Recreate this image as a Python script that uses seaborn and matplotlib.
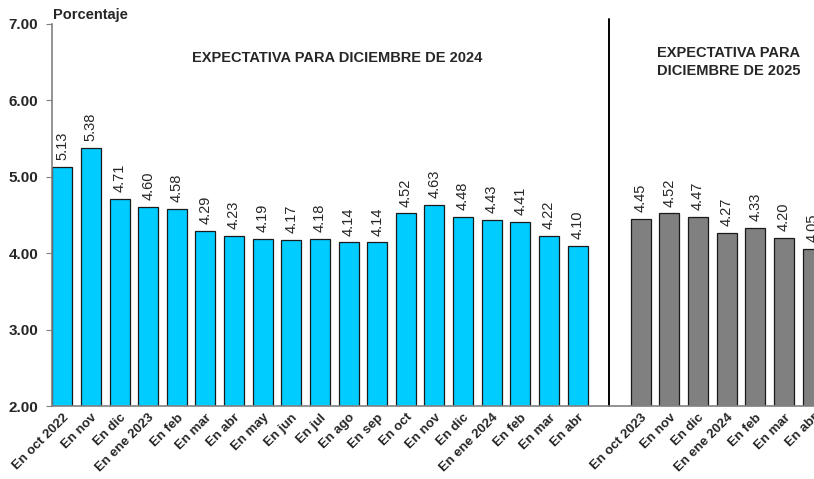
import numpy as np
import pandas as pd
import matplotlib
matplotlib.use("Agg")
import matplotlib.pyplot as plt
from matplotlib.transforms import ScaledTranslation
import seaborn as sns

# expectativas para diciembre de 2024
meses_2024 = ["En oct 2022", "En nov", "En dic", "En ene 2023", "En feb",
              "En mar", "En abr", "En may", "En jun", "En jul", "En ago",
              "En sep", "En oct", "En nov", "En dic", "En ene 2024",
              "En feb", "En mar", "En abr"]
valores_2024 = [5.13, 5.38, 4.71, 4.60, 4.58, 4.29, 4.23, 4.19, 4.17, 4.18,
                4.14, 4.14, 4.52, 4.63, 4.48, 4.43, 4.41, 4.22, 4.10]

# expectativas para diciembre de 2025
meses_2025 = ["En oct 2023", "En nov", "En dic", "En ene 2024", "En feb",
              "En mar", "En abr"]
valores_2025 = [4.45, 4.52, 4.47, 4.27, 4.33, 4.20, 4.05]

yticks = [2.0, 3.0, 4.0, 5.0, 6.0, 7.0]

sns.set_style("white")
plt.rcParams["font.family"] = ["Liberation Sans", "DejaVu Sans"]


def plot_expectativas():

    fig = plt.figure(figsize=(8.14, 4.79), dpi=100)
    ax = fig.add_axes([0.0639, 0.1524, 0.9361, 0.7976])

    # second group sits after a blank slot with the divider line
    gap = 20.21
    pos_2024 = np.arange(len(valores_2024))
    pos_2025 = np.arange(len(valores_2025)) + gap

    df_2024 = pd.DataFrame({"pos": pos_2024, "valor": valores_2024})
    df_2025 = pd.DataFrame({"pos": pos_2025, "valor": valores_2025})

    sns.barplot(data=df_2024, x="pos", y="valor", native_scale=True,
                color="#00CCFF", saturation=1, width=0.7,
                edgecolor="#1a1a1a", linewidth=0.9, ax=ax)
    sns.barplot(data=df_2025, x="pos", y="valor", native_scale=True,
                color="#808080", saturation=1, width=0.7,
                edgecolor="#1a1a1a", linewidth=0.9, ax=ax)

    for cont in ax.containers:
        ax.bar_label(cont, fmt="{:.2f}", rotation=90, padding=5,
                     fontsize=10.5)

    ax.set_ylim(2, 7)
    ax.set_xlim(-0.36, 26.26)
    ax.set_yticks(yticks)
    ax.set_yticklabels([f"{v:.2f}" for v in yticks],
                       fontsize=11, fontweight="bold")

    ax.set_xticks(list(pos_2024) + list(pos_2025))
    ax.set_xticklabels(meses_2024 + meses_2025, rotation=45,
                       ha="right", rotation_mode="anchor",
                       fontsize=9.5, fontweight="bold")
    shift = ScaledTranslation(6 / 100, 0, fig.dpi_scale_trans)
    for lab in ax.get_xticklabels():
        lab.set_transform(lab.get_transform() + shift)
    ax.tick_params(axis="x", length=0, pad=4)
    ax.tick_params(axis="y", length=4, color="#808080", left=True,
                   pad=6)

    ax.set_xlabel("")
    ax.set_ylabel("")
    for side in ["top", "right"]:
        ax.spines[side].set_visible(False)
    for side in ["left", "bottom"]:
        ax.spines[side].set_color("#808080")
        ax.spines[side].set_linewidth(1.2)

    ax.axvline(19.1, ymin=0, ymax=1.013, color="black", linewidth=1.4,
               clip_on=False)

    fig.text(53 / 814, 1 - 15 / 479, "Porcentaje", fontsize=10.5,
             fontweight="bold", va="center", ha="left")
    fig.text(337.5 / 814, 1 - 58 / 479, "EXPECTATIVA PARA DICIEMBRE DE 2024",
             fontsize=10.5, fontweight="bold", va="center", ha="center")
    fig.text(729 / 814, 1 - 62 / 479, "EXPECTATIVA PARA\nDICIEMBRE DE 2025",
             fontsize=10.5, fontweight="bold", va="center", ha="center",
             linespacing=1.3)

    fig.savefig("out.png", dpi=100, facecolor="white")


plot_expectativas()
